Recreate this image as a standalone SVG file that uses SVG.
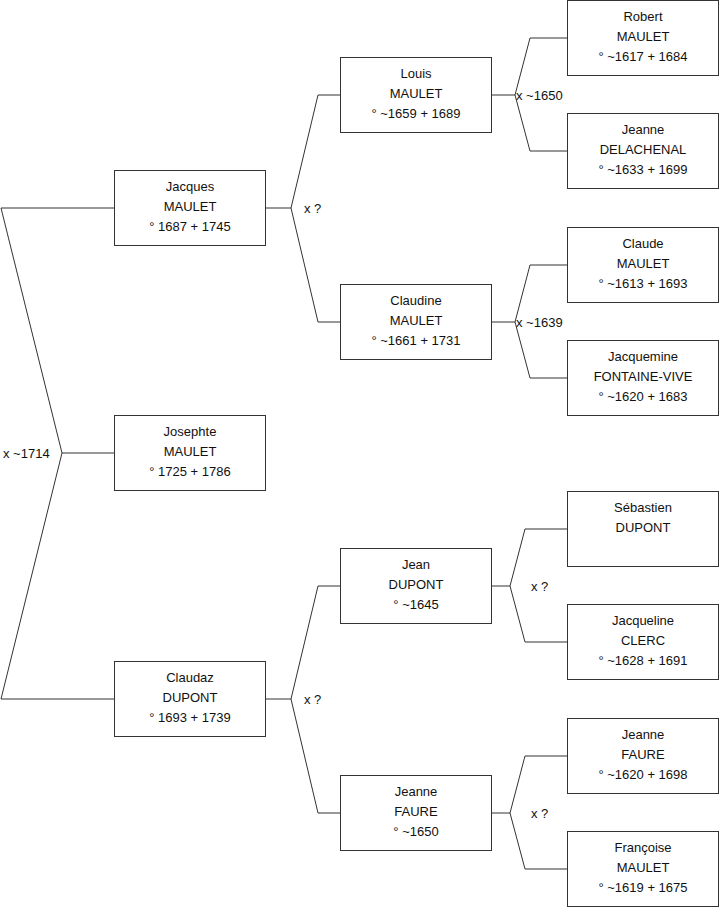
<svg xmlns="http://www.w3.org/2000/svg" width="719" height="908" viewBox="0 0 719 908">
<style>
  .box rect { fill: #ffffff; stroke: #333333; stroke-width: 1; }
  text { font-family: "Liberation Sans", Arial, sans-serif; font-size: 13px; fill: #111111; }
  .box text { text-anchor: middle; }
  .conn polyline { fill: none; stroke: #333333; stroke-width: 1; }
</style>
<rect x="0" y="0" width="719" height="908" fill="#ffffff"/>
<g class="conn" id="connectors">
  <polyline points="114,208 1,208 62,453 1,699 114,699"/>
  <polyline points="62,453 114,453"/>
  <polyline points="265,208 291,208"/>
  <polyline points="340,95 318,95 291,208 318,322 340,322"/>
  <polyline points="265,699 291,699"/>
  <polyline points="340,586 318,586 291,699 318,813 340,813"/>
  <polyline points="491,95 515,95"/>
  <polyline points="567,38 530,38 515,95 530,151 567,151"/>
  <polyline points="491,322 515,322"/>
  <polyline points="567,265 530,265 515,322 530,378 567,378"/>
  <polyline points="491,586 510,586"/>
  <polyline points="567,529 525,529 510,586 525,642 567,642"/>
  <polyline points="491,813 510,813"/>
  <polyline points="567,756 525,756 510,813 525,869 567,869"/>
  <text x="3" y="457.5">x ~1714</text>
  <text x="304" y="212.5">x ?</text>
  <text x="304" y="703.5">x ?</text>
  <text x="516" y="99.5">x ~1650</text>
  <text x="516" y="326.5">x ~1639</text>
  <text x="531" y="590.5">x ?</text>
  <text x="531" y="817.5">x ?</text>
</g>
<g class="box" id="jacques">
  <rect x="114.5" y="170.5" width="151" height="75"/>
  <text x="190" y="190.5">Jacques</text><text x="190" y="210.5">MAULET</text><text x="190" y="230.5">° 1687 + 1745</text>
</g>
<g class="box" id="josephte">
  <rect x="114.5" y="415.5" width="151" height="75"/>
  <text x="190" y="435.5">Josephte</text><text x="190" y="455.5">MAULET</text><text x="190" y="475.5">° 1725 + 1786</text>
</g>
<g class="box" id="claudaz">
  <rect x="114.5" y="661.5" width="151" height="75"/>
  <text x="190" y="681.5">Claudaz</text><text x="190" y="701.5">DUPONT</text><text x="190" y="721.5">° 1693 + 1739</text>
</g>
<g class="box" id="louis">
  <rect x="340.5" y="57.5" width="151" height="75"/>
  <text x="416" y="77.5">Louis</text><text x="416" y="97.5">MAULET</text><text x="416" y="117.5">° ~1659 + 1689</text>
</g>
<g class="box" id="claudine">
  <rect x="340.5" y="284.5" width="151" height="75"/>
  <text x="416" y="304.5">Claudine</text><text x="416" y="324.5">MAULET</text><text x="416" y="344.5">° ~1661 + 1731</text>
</g>
<g class="box" id="jean">
  <rect x="340.5" y="548.5" width="151" height="75"/>
  <text x="416" y="568.5">Jean</text><text x="416" y="588.5">DUPONT</text><text x="416" y="608.5">° ~1645</text>
</g>
<g class="box" id="jeanne-faure-1650">
  <rect x="340.5" y="775.5" width="151" height="75"/>
  <text x="416" y="795.5">Jeanne</text><text x="416" y="815.5">FAURE</text><text x="416" y="835.5">° ~1650</text>
</g>
<g class="box" id="robert">
  <rect x="567.5" y="0.5" width="151" height="75"/>
  <text x="643" y="20.5">Robert</text><text x="643" y="40.5">MAULET</text><text x="643" y="60.5">° ~1617 + 1684</text>
</g>
<g class="box" id="jeanne-delachenal">
  <rect x="567.5" y="113.5" width="151" height="75"/>
  <text x="643" y="133.5">Jeanne</text><text x="643" y="153.5">DELACHENAL</text><text x="643" y="173.5">° ~1633 + 1699</text>
</g>
<g class="box" id="claude">
  <rect x="567.5" y="227.5" width="151" height="75"/>
  <text x="643" y="247.5">Claude</text><text x="643" y="267.5">MAULET</text><text x="643" y="287.5">° ~1613 + 1693</text>
</g>
<g class="box" id="jacquemine">
  <rect x="567.5" y="340.5" width="151" height="75"/>
  <text x="643" y="360.5">Jacquemine</text><text x="643" y="380.5">FONTAINE-VIVE</text><text x="643" y="400.5">° ~1620 + 1683</text>
</g>
<g class="box" id="sebastien">
  <rect x="567.5" y="491.5" width="151" height="75"/>
  <text x="643" y="511.5">Sébastien</text><text x="643" y="531.5">DUPONT</text>
</g>
<g class="box" id="jacqueline">
  <rect x="567.5" y="604.5" width="151" height="75"/>
  <text x="643" y="624.5">Jacqueline</text><text x="643" y="644.5">CLERC</text><text x="643" y="664.5">° ~1628 + 1691</text>
</g>
<g class="box" id="jeanne-faure-1620">
  <rect x="567.5" y="718.5" width="151" height="75"/>
  <text x="643" y="738.5">Jeanne</text><text x="643" y="758.5">FAURE</text><text x="643" y="778.5">° ~1620 + 1698</text>
</g>
<g class="box" id="francoise">
  <rect x="567.5" y="831.5" width="151" height="75"/>
  <text x="643" y="851.5">Françoise</text><text x="643" y="871.5">MAULET</text><text x="643" y="891.5">° ~1619 + 1675</text>
</g>
</svg>
